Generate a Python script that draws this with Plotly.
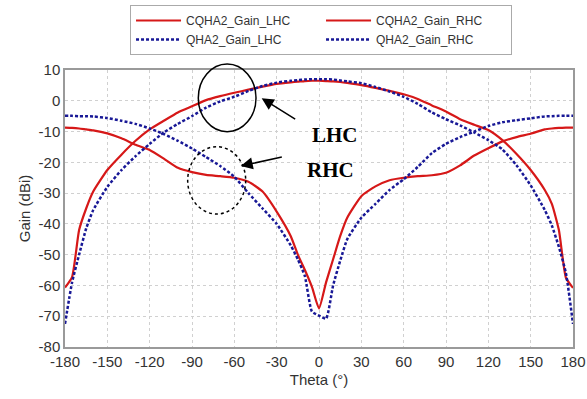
import plotly.graph_objects as go

theta = [-180, -175, -170, -165, -160, -150, -140, -130, -120, -110, -100, -90, -80, -70,
         -60, -50, -40, -30, -20, -15, -10, -5, 0, 5, 10, 15, 20, 30, 40, 50, 60, 70, 80,
         90, 100, 110, 120, 130, 140, 150, 160, 165, 170, 175, 180]

cqha2_lhc = [-60.7, -57.3, -42, -35, -29.5, -22.5, -17.5, -13, -9.3, -6.5, -3.8, -1.8, 0.2, 1.5,
             2.6, 3.6, 4.6, 5.5, 6.0, 6.2, 6.4, 6.5, 6.5, 6.4, 6.3, 6.1, 5.8, 5.1, 4.2, 3.2, 2.1, 0.6, -1.5,
             -3.5, -6.0, -7.8, -9.5, -12.8, -17.3, -22.5, -29, -33.5, -42, -57.5, -60.8]

cqha2_rhc = [-8.7, -8.8, -9, -9.3, -9.6, -10.6, -12.2, -14.3, -16, -18.8, -21.8, -23.2, -24.1, -24.5,
             -25, -26.3, -29.5, -36, -44, -50, -55, -60.5, -67.5, -59, -51.5, -44, -38, -31, -27.8, -25.8,
             -25, -24.5, -24.2, -23.4, -21.0, -17.8, -15.4, -13.2, -11.8, -10.7, -9.3, -9, -8.8, -8.7, -8.7]

qha2_lhc = [-72.5, -59, -50, -41.5, -35.5, -28, -22.5, -18, -14, -10.3, -7.5, -5, -2.2, -0.2,
            1.3, 3.2, 4.8, 5.9, 6.5, 6.7, 6.9, 7.0, 7.0, 7.0, 6.9, 6.6, 6.3, 5.7, 4.5, 3.0, 1.3, -1, -3.8,
            -6, -8, -10.3, -12.8, -15.8, -21, -27.5, -35.5, -40.5, -47.5, -56, -72.5]

qha2_rhc = [-4.9, -4.9, -5.0, -5.0, -5.1, -5.6, -6.5, -7.5, -9, -10.8, -13, -15.5, -18.3, -21.2,
            -24.7, -30, -35, -40, -47, -51.5, -57, -68.5, -69.8, -70.8, -60, -52, -45, -38, -33.5, -29,
            -25.5, -21.5, -17, -14, -11.8, -10, -8.2, -7, -6.3, -5.7, -5.1, -5.0, -4.9, -4.9, -4.9]

x_ticks = [-180, -150, -120, -90, -60, -30, 0, 30, 60, 90, 120, 150, 180]
y_ticks = [10, 0, -10, -20, -30, -40, -50, -60, -70, -80]

RED = "rgb(214,24,24)"
BLUE = "rgb(24,24,150)"

fig = go.Figure()
fig.add_trace(go.Scatter(x=theta, y=cqha2_lhc, name="CQHA2_Gain_LHC", mode="lines",
                         line=dict(color=RED, width=2.2, shape="spline", smoothing=0.5)))
fig.add_trace(go.Scatter(x=theta, y=cqha2_rhc, name="CQHA2_Gain_RHC", mode="lines",
                         line=dict(color=RED, width=2.2, shape="spline", smoothing=0.5)))
fig.add_trace(go.Scatter(x=theta, y=qha2_lhc, name="QHA2_Gain_LHC", mode="lines",
                         line=dict(color=BLUE, width=2.5, dash="3px,2px", shape="spline", smoothing=0.5)))
fig.add_trace(go.Scatter(x=theta, y=qha2_rhc, name="QHA2_Gain_RHC", mode="lines",
                         line=dict(color=BLUE, width=2.5, dash="3px,2px", shape="spline", smoothing=0.5)))

axis_common = dict(showline=True, linecolor="#9a9a9a", linewidth=1.5, mirror=True,
                   showgrid=True, gridcolor="#d0d0d0", griddash="dot", gridwidth=1,
                   zeroline=False, ticks="", tickfont=dict(family="Liberation Sans", size=15, color="#333333"))

fig.update_xaxes(range=[-180, 180], tickvals=x_ticks, ticktext=[str(v) for v in x_ticks],
                 title=dict(text="Theta (°)", font=dict(family="Liberation Sans", size=15, color="#333333"),
                            standoff=6),
                 **axis_common)
fig.update_yaxes(range=[-80, 10], tickvals=y_ticks, ticktext=[str(v) for v in y_ticks],
                 title=dict(text="Gain (dBi)", font=dict(family="Liberation Sans", size=15, color="#333333"),
                            standoff=4),
                 **axis_common)

shapes = [
    dict(type="circle", xref="paper", yref="paper", x0=0.2624, x1=0.376, y0=0.777, y1=1.0217,
         line=dict(color="black", width=1.5)),
    dict(type="circle", xref="paper", yref="paper", x0=0.2415, x1=0.3557, y0=0.480, y1=0.723,
         line=dict(color="black", width=1.5, dash="dot")),
]

annotations = [
    dict(xref="paper", yref="paper", x=0.3872, y=0.8978, ax=35, ay=21.7, text="",
         showarrow=True, arrowhead=2, arrowsize=1.6, arrowwidth=1.5, arrowcolor="black"),
    dict(xref="paper", yref="paper", x=0.3459, y=0.6534, ax=42.6, ay=-9.3, text="",
         showarrow=True, arrowhead=2, arrowsize=1.6, arrowwidth=1.5, arrowcolor="black"),
    dict(xref="paper", yref="paper", x=0.5315, y=0.816, text="<b>LHC</b>", showarrow=False,
         font=dict(family="Liberation Serif", size=21, color="black")),
    dict(xref="paper", yref="paper", x=0.5217, y=0.639, text="<b>RHC</b>", showarrow=False,
         font=dict(family="Liberation Serif", size=21, color="black")),
]

fig.update_layout(
    width=587, height=399,
    margin=dict(l=65, r=14, t=70, b=52, autoexpand=False),
    paper_bgcolor="white", plot_bgcolor="white",
    font=dict(family="Liberation Sans", color="#333333"),
    shapes=shapes, annotations=annotations,
    legend=dict(orientation="h", x=0.128, y=1.2347, xanchor="left", yanchor="top",
                entrywidth=130, entrywidthmode="pixels",
                bordercolor="#aaaaaa", borderwidth=1, bgcolor="white",
                font=dict(family="Liberation Sans", size=12, color="#333333"),
                tracegroupgap=0, itemwidth=45),
)

fig.write_html("out.html")
